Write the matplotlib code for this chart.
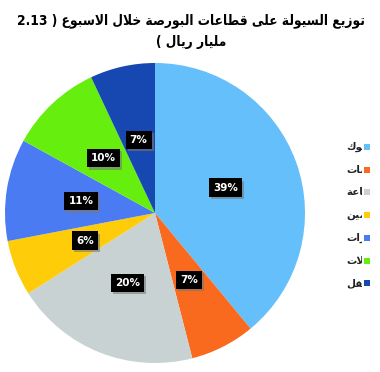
import matplotlib
matplotlib.use("Agg")
from matplotlib import pyplot as plt
from matplotlib import patheffects as pe
from matplotlib.transforms import Bbox, TransformedBbox

# Data
sectors = ["البنوك", "الخدمات", "الصناعة", "التأمين", "العقارات", "الاتصالات", "النقل"]
shares = [39, 7, 20, 6, 11, 10, 7]
colors = ["#65bffa", "#f96a1e", "#c8d2d2", "#ffcc0a", "#4b7bf2", "#66ee0f", "#1747b0"]
title_1 = "توزيع السيولة على قطاعات البورصة خلال الاسبوع"
title_num = "2.13"
title_2 = "مليار ريال"

# Arabic presentation forms: isolated, final, initial, medial
FORMS = {
	'ا': (0xFE8D, 0xFE8E, None, None),
	'أ': (0xFE83, 0xFE84, None, None),
	'ب': (0xFE8F, 0xFE90, 0xFE91, 0xFE92),
	'ة': (0xFE93, 0xFE94, None, None),
	'ت': (0xFE95, 0xFE96, 0xFE97, 0xFE98),
	'خ': (0xFEA5, 0xFEA6, 0xFEA7, 0xFEA8),
	'د': (0xFEA9, 0xFEAA, None, None),
	'ر': (0xFEAD, 0xFEAE, None, None),
	'ز': (0xFEAF, 0xFEB0, None, None),
	'س': (0xFEB1, 0xFEB2, 0xFEB3, 0xFEB4),
	'ص': (0xFEB9, 0xFEBA, 0xFEBB, 0xFEBC),
	'ط': (0xFEC1, 0xFEC2, 0xFEC3, 0xFEC4),
	'ع': (0xFEC9, 0xFECA, 0xFECB, 0xFECC),
	'ق': (0xFED5, 0xFED6, 0xFED7, 0xFED8),
	'ك': (0xFED9, 0xFEDA, 0xFEDB, 0xFEDC),
	'ل': (0xFEDD, 0xFEDE, 0xFEDF, 0xFEE0),
	'م': (0xFEE1, 0xFEE2, 0xFEE3, 0xFEE4),
	'ن': (0xFEE5, 0xFEE6, 0xFEE7, 0xFEE8),
	'و': (0xFEED, 0xFEEE, None, None),
	'ى': (0xFEEF, 0xFEF0, None, None),
	'ي': (0xFEF1, 0xFEF2, 0xFEF3, 0xFEF4),
}
LAM_ALEF = {'ا': (0xFEFB, 0xFEFC), 'أ': (0xFEF7, 0xFEF8)}


def is_arabic(c):
	return c in FORMS or c.startswith('L')


def is_dual(c):
	return c in FORMS and FORMS[c][2] is not None


def shape(text):
	# Join letters and return them in visual (left to right) order
	letters = []
	i = 0
	while i < len(text):
		c = text[i]
		if c == 'ل' and i + 1 < len(text) and text[i + 1] in LAM_ALEF:
			letters.append('L' + text[i + 1])
			i += 2
		else:
			letters.append(c)
			i += 1
	out = []
	for i, c in enumerate(letters):
		prev_j = i > 0 and is_dual(letters[i - 1]) and is_arabic(c)
		next_j = is_dual(c) and i + 1 < len(letters) and is_arabic(letters[i + 1])
		if c.startswith('L') and len(c) == 2:
			out.append(chr(LAM_ALEF[c[1]][1 if prev_j else 0]))
		elif c in FORMS:
			iso, fin, ini, med = FORMS[c]
			if prev_j and next_j:
				out.append(chr(med))
			elif prev_j:
				out.append(chr(fin))
			elif next_j:
				out.append(chr(ini))
			else:
				out.append(chr(iso))
		else:
			out.append(c)
	return ''.join(out)[::-1]


W, H = 380, 372
fig = plt.figure(figsize=(W / 100, H / 100), dpi=100)
fig.patch.set_facecolor("white")

# Pie
cx, cy, r = 155, 159, 150
ax = fig.add_axes([(cx - r) / W, (cy - r) / H, 2 * r / W, 2 * r / H])
wedges, _, autotexts = ax.pie(
	shares, colors=colors, startangle=90, counterclock=False,
	autopct=lambda p: f"{p:.0f}%", pctdistance=0.5,
	wedgeprops=dict(linewidth=0),
	textprops=dict(color="white", fontsize=7.5, fontweight="bold"),
)
for t in autotexts:
	t.set_bbox(dict(boxstyle="square,pad=0.4", facecolor="black", edgecolor="none"))
	t.get_bbox_patch().set_path_effects([
		pe.SimplePatchShadow(offset=(1.5, -1.5), shadow_rgbFace="#777777", alpha=0.6),
		pe.Normal(),
	])
ax.set_xlim(-1, 1)
ax.set_ylim(-1, 1)
ax.set_aspect("equal")

# Title (visual order, numbers and mirrored brackets placed as in the original)
title_font = dict(fontsize=9.8, fontweight="bold", color="black", family="DejaVu Sans",
				  fontstretch="condensed")
fig.text(191 / W, 1 - 21 / H, title_num + " ) " + shape(title_1), ha="center", va="center", **title_font)
fig.text(191 / W, 1 - 42 / H, "( " + shape(title_2), ha="center", va="center", **title_font)

# Legend, cut off at the right edge of the picture
clip = TransformedBbox(Bbox([[0, 0], [362 / W, 1]]), fig.transFigure)
for i, (name, col) in enumerate(zip(sectors, colors)):
	y = 1 - (147 + i * 22.7) / H
	fig.patches.append(plt.Rectangle((364 / W, y - 3 / H), 6 / W, 6 / H, facecolor=col,
									 edgecolor="none", transform=fig.transFigure, figure=fig))
	t = fig.text(346 / W, y, shape(name), ha="left", va="center", fontsize=7.5,
				 fontweight="bold", color="#222222")
	t.set_clip_box(clip)
	t.set_clip_on(True)

fig.savefig("out.png", dpi=100)
